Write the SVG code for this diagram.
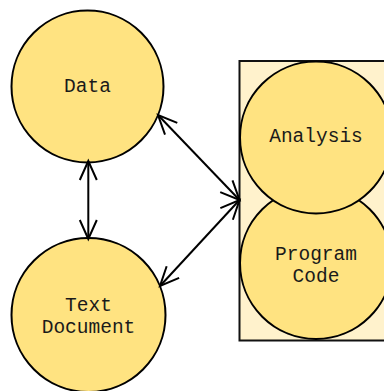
<svg xmlns="http://www.w3.org/2000/svg" width="384" height="391" viewBox="0 0 384 391">
  <style>
    .node { fill: #ffe381; stroke: #000; stroke-width: 2; }
    .box { fill: #fff2cc; stroke: #111; stroke-width: 2; }
    .label { font-family: "Liberation Mono", "Courier New", monospace; font-size: 19.5px; fill: #1a1a1a; text-anchor: middle; }
    .edge { fill: none; stroke: #000; stroke-width: 2; marker-start: url(#head); marker-end: url(#head); }
  </style>
  <defs>
    <marker id="head" markerUnits="userSpaceOnUse" viewBox="-20 -10 22 20" refX="0" refY="0" markerWidth="22" markerHeight="20" orient="auto-start-reverse" overflow="visible">
      <path d="M-19,-8.5 L0,0 L-19,8.5" fill="none" stroke="#000" stroke-width="2"/>
    </marker>
  </defs>

  <!-- container for the analysis pair -->
  <g id="workspace">
    <rect class="box" x="239.5" y="61" width="160" height="279.5"/>
  </g>

  <g id="program-code">
    <circle class="node" cx="316" cy="263" r="76"/>
    <text class="label" x="316" y="259.5">Program</text>
    <text class="label" x="316" y="282">Code</text>
  </g>

  <g id="analysis">
    <circle class="node" cx="316" cy="137.5" r="76"/>
    <text class="label" x="316" y="142">Analysis</text>
  </g>

  <g id="data">
    <circle class="node" cx="87.5" cy="86.5" r="76"/>
    <text class="label" x="87.5" y="92">Data</text>
  </g>

  <g id="text-document">
    <circle class="node" cx="88.5" cy="315" r="77"/>
    <text class="label" x="88.5" y="310.5">Text</text>
    <text class="label" x="88.5" y="332.5">Document</text>
  </g>

  <g id="connectors">
    <line class="edge" x1="88.3" y1="161" x2="88.3" y2="239"/>
    <line class="edge" x1="158" y1="115" x2="239.5" y2="200"/>
    <line class="edge" x1="239.5" y1="200" x2="160" y2="286"/>
  </g>
</svg>
